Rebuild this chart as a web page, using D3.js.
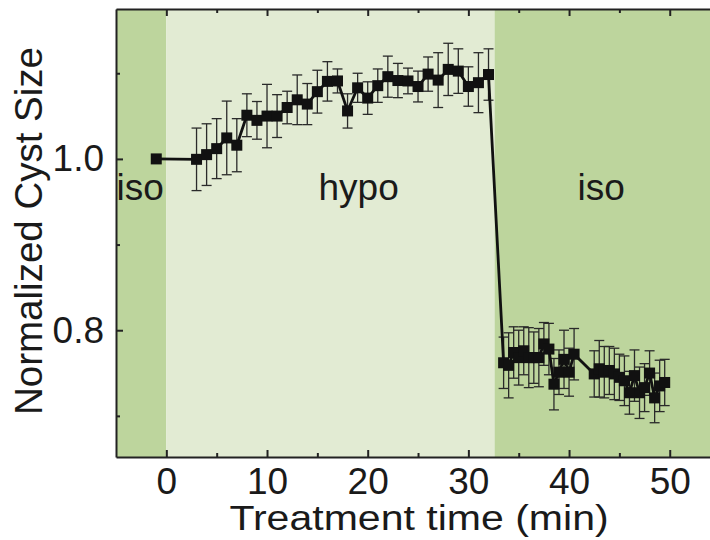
<!DOCTYPE html>
<meta charset="utf-8">
<body style="margin:0;background:#fff">
<script src="https://d3js.org/d3.v7.min.js"></script>
<script>
// treatment time (min), normalized cyst size and error
var time = [-1, 3, 4, 5, 6, 7, 8, 9, 10, 11, 12, 13, 14, 15, 16, 17, 18, 19, 20,
  21, 22, 23, 24, 25, 26, 27, 28, 29, 30, 31, 32,
  33.5, 34, 34.5, 35, 35.5, 36, 36.5, 37, 37.5, 38, 38.5, 39, 39.5, 40, 40.5,
  42.5, 43, 43.5, 44, 44.5, 45, 45.5, 46, 46.5, 47, 47.5, 48, 48.5, 49, 49.5];
var size = [1.0, 0.9995, 1.005, 1.012, 1.0245, 1.016, 1.051, 1.045, 1.050, 1.050, 1.060, 1.069, 1.064, 1.0785, 1.0905, 1.091, 1.056, 1.083, 1.071,
  1.0855, 1.096, 1.0915, 1.091, 1.0845, 1.099, 1.092, 1.1045, 1.1025, 1.0845, 1.089, 1.0985,
  0.762, 0.759, 0.774, 0.768, 0.776, 0.768, 0.768, 0.768, 0.784, 0.778, 0.737, 0.751, 0.766, 0.751, 0.772,
  0.749, 0.755, 0.751, 0.753, 0.749, 0.745, 0.741, 0.727, 0.747, 0.727, 0.733, 0.750, 0.721, 0.735, 0.739];
var err = [0, 0.0365, 0.036, 0.035, 0.043, 0.031, 0.025, 0.022, 0.037, 0.025, 0.019, 0.029, 0.024, 0.025, 0.023, 0.014, 0.02, 0.017, 0.019,
  0.0195, 0.024, 0.02, 0.015, 0.018, 0.02, 0.032, 0.0305, 0.026, 0.023, 0.035, 0.03,
  0.03, 0.038, 0.03, 0.032, 0.028, 0.035, 0.03, 0.034, 0.025, 0.03, 0.03, 0.026, 0.034, 0.028, 0.03,
  0.027, 0.033, 0.03, 0.028, 0.03, 0.027, 0.029, 0.025, 0.03, 0.03, 0.028, 0.026, 0.029, 0.03, 0.027];

// treatment phases
var phaseStart = [-5, 0, 32.6];
var phaseEnd = [0, 32.6, 54];
var phaseLabel = ["iso", "hypo", "iso"];

var xMajor = [0, 10, 20, 30, 40, 50];
var xMinor = [5, 15, 25, 35, 45];
var yMajor = [0.8, 1.0];
var yMinor = [0.7, 0.9, 1.1];

var width = 710, height = 540;
var font = "'Liberation Sans', Arial, sans-serif";

var x = d3.scaleLinear().domain([-5, 54]).range([116, 710]);
var y = d3.scaleLinear().domain([0.652, 1.175]).range([457, 9]);

var svg = d3.select("body").append("svg")
    .attr("width", width)
    .attr("height", height)
    .style("display", "block");

var data = time.map(function(t, i) { return {t: t, v: size[i], e: err[i]}; });
var phases = phaseStart.map(function(s, i) { return {start: s, end: phaseEnd[i], label: phaseLabel[i]}; });

// phase backgrounds
svg.append("g").selectAll("rect")
  .data(phases)
  .enter().append("rect")
    .attr("x", function(d) { return x(d.start); })
    .attr("y", y.range()[1])
    .attr("width", function(d) { return x(d.end) - x(d.start); })
    .attr("height", y.range()[0] - y.range()[1])
    .attr("fill", function(d) { return d.label == "hypo" ? "#e2ebd3" : "#bdd59d"; });

svg.append("g").selectAll("text")
  .data(phases)
  .enter().append("text")
    .attr("x", function(d) { return d.label == "hypo" ? x(19.1) : x((d.start + d.end) / 2) - 1; })
    .attr("y", 200)
    .attr("text-anchor", "middle")
    .style("font-family", font)
    .style("font-size", "37px")
    .attr("fill", "#1a1a1a")
    .text(function(d) { return d.label; });

// error bars
var eb = svg.append("g").attr("stroke", "#2a2a2a").attr("stroke-width", 1.3)
  .selectAll("g")
  .data(data.filter(function(d) { return d.e > 0; }))
  .enter().append("g");

eb.append("line")
    .attr("x1", function(d) { return x(d.t); })
    .attr("x2", function(d) { return x(d.t); })
    .attr("y1", function(d) { return y(d.v - d.e); })
    .attr("y2", function(d) { return y(d.v + d.e); });
[-1, 1].forEach(function(s) {
  eb.append("line")
      .attr("x1", function(d) { return x(d.t) - 5; })
      .attr("x2", function(d) { return x(d.t) + 5; })
      .attr("y1", function(d) { return y(d.v + s * d.e); })
      .attr("y2", function(d) { return y(d.v + s * d.e); });
});

// line + squares
var line = d3.line()
    .x(function(d) { return x(d.t); })
    .y(function(d) { return y(d.v); });

svg.append("path")
    .datum(data)
    .attr("d", line)
    .attr("fill", "none")
    .attr("stroke", "#111")
    .attr("stroke-width", 2.8);

svg.append("g").selectAll("rect")
  .data(data)
  .enter().append("rect")
    .attr("x", function(d) { return x(d.t) - 5.5; })
    .attr("y", function(d) { return y(d.v) - 5.5; })
    .attr("width", 11)
    .attr("height", 11)
    .attr("fill", "#111");

// axes
function styleAxis(g) {
  g.selectAll(".domain").attr("stroke", "#222").attr("stroke-width", 2);
  g.selectAll(".tick line").attr("stroke", "#222").attr("stroke-width", 2);
  g.selectAll("text").style("font-family", font).style("font-size", "37px").attr("fill", "#1a1a1a");
}

var gx = svg.append("g").attr("transform", "translate(0," + y.range()[0] + ")")
  .call(d3.axisBottom(x).tickValues(xMajor).tickSize(-7).tickSizeOuter(0).tickPadding(11).tickFormat(d3.format("d")));
gx.call(styleAxis);
svg.append("g").attr("transform", "translate(0," + y.range()[0] + ")")
  .call(d3.axisBottom(x).tickValues(xMinor).tickSize(-4).tickFormat(""))
  .call(styleAxis).select(".domain").remove();

var gt = svg.append("g").attr("transform", "translate(0," + y.range()[1] + ")")
  .call(d3.axisTop(x).tickValues(xMajor).tickSize(-7).tickSizeOuter(0).tickFormat(""));
gt.call(styleAxis);
svg.append("g").attr("transform", "translate(0," + y.range()[1] + ")")
  .call(d3.axisTop(x).tickValues(xMinor).tickSize(-4).tickFormat(""))
  .call(styleAxis).select(".domain").remove();

var gy = svg.append("g").attr("transform", "translate(" + x.range()[0] + ",0)")
  .call(d3.axisLeft(y).tickValues(yMajor).tickSize(-7).tickSizeOuter(0).tickPadding(12).tickFormat(d3.format(".1f")));
gy.call(styleAxis);
svg.append("g").attr("transform", "translate(" + x.range()[0] + ",0)")
  .call(d3.axisLeft(y).tickValues(yMinor).tickSize(-4).tickFormat(""))
  .call(styleAxis).select(".domain").remove();

// axis titles (reference text is a little wider than Arial)
svg.append("text")
    .attr("transform", "translate(419,530)scale(1.14,1)")
    .attr("text-anchor", "middle")
    .style("font-family", font)
    .style("font-size", "36px")
    .attr("fill", "#1a1a1a")
    .text("Treatment time (min)");

svg.append("text")
    .attr("transform", "translate(42," + ((y.range()[0] + y.range()[1]) / 2 - 2) + ")rotate(-90)")
    .attr("text-anchor", "middle")
    .style("font-family", font)
    .style("font-size", "38.5px")
    .attr("fill", "#1a1a1a")
    .text("Normalized Cyst Size");
</script>
</body>
</html>
